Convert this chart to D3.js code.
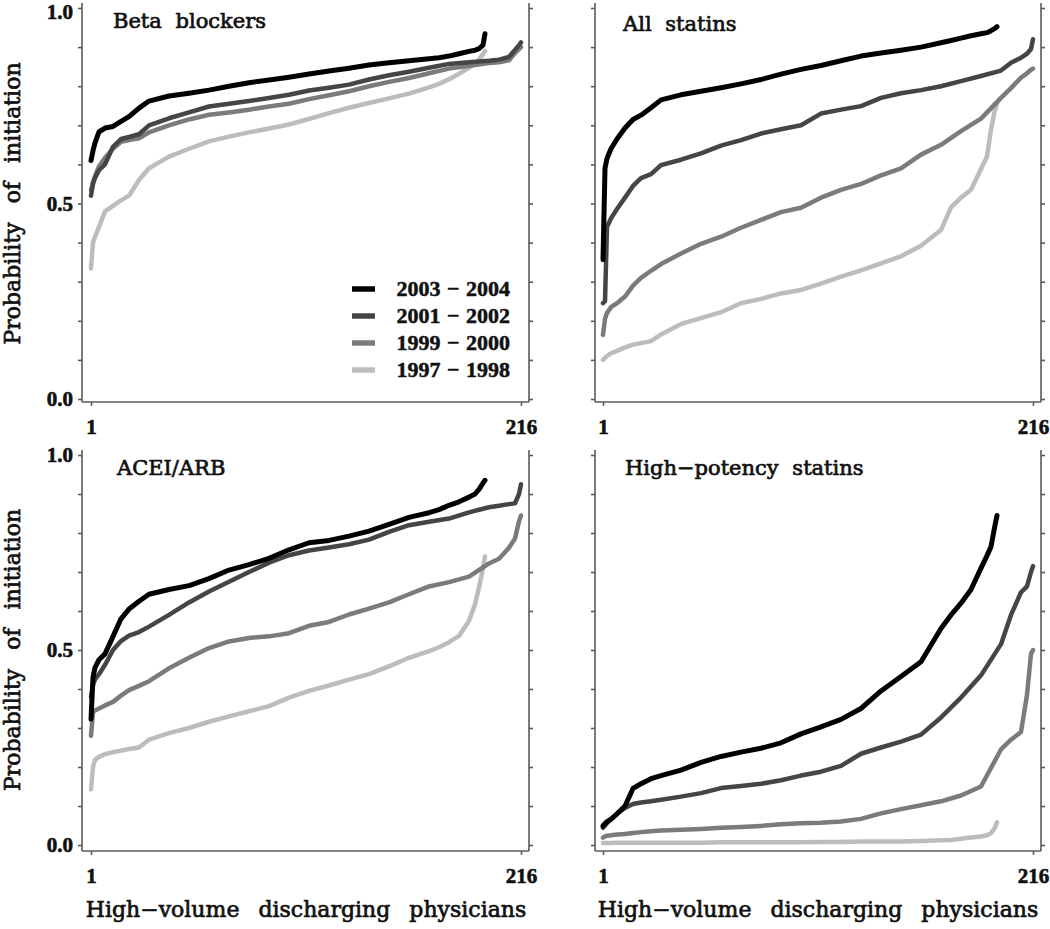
<!DOCTYPE html>
<html><head><meta charset="utf-8">
<script src="https://cdn.jsdelivr.net/npm/d3@7"></script>
<style>body{margin:0;background:#fff} svg{display:block}</style>
</head><body><svg id="c" width="1050" height="929"></svg>
<script>
// ---------- data ----------
const periods = ["2003 \u2212 2004", "2001 \u2212 2002", "1999 \u2212 2000", "1997 \u2212 1998"];
const panelTitles = ["Beta blockers", "All statins", "ACEI/ARB", "High\u2212potency statins"];
const yTickLabels = [0, 0.5, 1.0];
const xTickLabels = [1, 216];
// physician ranks at which values were read (2003-04 and 1997-98 have ~198 physicians, the others 216)
const ranksShort = [1,2,3,5,8,12,16,20,25,30,40,50,60,70,80,90,100,110,120,130,140,150,160,170,175,180,185,190,193,195,197,198];
const ranksLong  = [1,2,3,5,8,12,16,20,25,30,40,50,60,70,80,90,100,110,120,130,140,150,160,170,180,190,200,205,210,213,215,216];

const beta2003 = [.61,.635,.655,.683,.693,.697,.71,.722,.744,.762,.775,.782,.79,.80,.809,.816,.823,.831,.839,.846,.854,.86,.865,.870,.873,.877,.883,.889,.892,.896,.905,.934];
const beta2001 = [.52,.55,.565,.585,.60,.645,.665,.67,.677,.70,.718,.733,.748,.755,.762,.770,.778,.789,.796,.804,.817,.828,.837,.847,.857,.861,.865,.868,.875,.893,.905,.912];
const beta1999 = [.534,.555,.57,.595,.617,.64,.658,.662,.667,.682,.70,.715,.727,.733,.740,.748,.755,.767,.777,.787,.800,.811,.821,.833,.845,.852,.859,.861,.866,.885,.895,.90];
const beta1997 = [.334,.40,.415,.44,.48,.494,.508,.52,.56,.59,.62,.64,.659,.671,.682,.692,.702,.716,.731,.745,.757,.769,.781,.797,.806,.818,.832,.847,.857,.868,.882,.89];

const statin2003 = [.356,.59,.615,.64,.665,.693,.715,.726,.745,.765,.778,.787,.796,.806,.817,.831,.843,.853,.865,.877,.885,.892,.90,.911,.917,.923,.929,.934,.937,.942,.948,.952];
const statin2001 = [.245,.25,.44,.462,.486,.515,.545,.565,.575,.598,.612,.628,.648,.662,.679,.69,.70,.73,.74,.749,.77,.782,.79,.80,.813,.826,.84,.86,.873,.883,.895,.92];
const statin1999 = [.164,.205,.22,.235,.245,.262,.29,.31,.328,.345,.372,.397,.415,.438,.458,.478,.489,.515,.535,.55,.572,.59,.625,.65,.685,.717,.77,.795,.822,.833,.842,.845];
const statin1997 = [.10,.105,.11,.117,.123,.132,.139,.143,.148,.165,.192,.207,.222,.245,.256,.27,.279,.295,.313,.329,.347,.365,.392,.432,.49,.515,.535,.588,.62,.69,.74,.755];

const acei2003 = [.323,.43,.455,.475,.49,.535,.58,.605,.625,.643,.655,.665,.683,.705,.719,.735,.757,.775,.781,.792,.805,.822,.84,.852,.86,.871,.88,.892,.90,.912,.928,.935];
const acei2001 = [.38,.41,.425,.438,.462,.50,.523,.537,.546,.56,.59,.622,.65,.675,.70,.724,.743,.755,.763,.771,.783,.803,.82,.829,.837,.853,.866,.870,.874,.876,.90,.925];
const acei1999 = [.28,.34,.345,.35,.358,.367,.383,.397,.408,.42,.453,.48,.505,.522,.531,.535,.543,.562,.572,.591,.606,.622,.643,.663,.674,.688,.722,.734,.762,.786,.83,.845];
const acei1997 = [.143,.20,.218,.226,.233,.238,.242,.246,.25,.27,.287,.30,.316,.33,.343,.356,.378,.395,.409,.424,.438,.458,.48,.497,.507,.52,.536,.575,.617,.66,.71,.74];

const hp2003 = [.049,.055,.06,.066,.08,.10,.145,.157,.17,.178,.192,.212,.227,.238,.248,.262,.285,.303,.322,.35,.395,.432,.47,.555,.59,.62,.655,.71,.742,.765,.82,.845];
const hp2001 = [.044,.05,.056,.066,.08,.095,.105,.109,.112,.116,.124,.133,.146,.151,.157,.166,.178,.188,.203,.234,.25,.265,.283,.327,.378,.435,.515,.59,.648,.663,.70,.715];
const hp1999 = [.019,.022,.024,.025,.027,.028,.031,.033,.035,.037,.039,.041,.044,.046,.049,.053,.056,.057,.060,.067,.081,.092,.102,.112,.127,.15,.245,.27,.29,.385,.49,.50];
const hp1997 = [.005,.005,.005,.005,.006,.006,.006,.006,.006,.006,.006,.006,.007,.007,.007,.007,.007,.008,.008,.009,.009,.009,.010,.012,.013,.016,.019,.022,.025,.03,.045,.058];

// ---------- styling / layout ----------
const colors = ["#000000", "#454545", "#7b7b7b", "#bcbcbc"];
const widths = [5, 4.5, 4.5, 4.5];
const serif = "'DejaVu Serif', serif";
const numFont = "'Liberation Serif', 'Times New Roman', serif";

const panels = [
  {title: panelTitles[0], series: [beta2003, beta2001, beta1999, beta1997],   x0: 91,  x1: 521,  axL: 82,  axR: 529,  y0: 399, y1: 8,   axB: 402, yLabels: true, legend: true,  tx: 113, ty: 28, topRow: true},
  {title: panelTitles[1], series: [statin2003, statin2001, statin1999, statin1997], x0: 603, x1: 1033, axL: 595, axR: 1041, y0: 399, y1: 8,   axB: 402, yLabels: false, legend: false, tx: 623, ty: 31, topRow: true},
  {title: panelTitles[2], series: [acei2003, acei2001, acei1999, acei1997],   x0: 91,  x1: 521,  axL: 82,  axR: 529,  y0: 845, y1: 455, axB: 851, yLabels: true, legend: false, tx: 117, ty: 475, xTitle: true},
  {title: panelTitles[3], series: [hp2003, hp2001, hp1999, hp1997],           x0: 603, x1: 1033, axL: 595, axR: 1041, y0: 845, y1: 455, axB: 851, yLabels: false, legend: false, tx: 625, ty: 475, xTitle: true}
];

const svg = d3.select("#c");
const axisColor = "#5a5a5a";

function heavy(sel, w) {
  return sel.attr("stroke", "#111").attr("stroke-width", w).attr("paint-order", "stroke").attr("stroke-linejoin", "round");
}

panels.forEach(p => {
  const x = d3.scaleLinear().domain([1, 216]).range([p.x0, p.x1]);
  const y = d3.scaleLinear().domain([0, 1]).range([p.y0, p.y1]);
  const g = svg.append("g");
  const top = p.y1 - 5;

  // frame lines (left, right, bottom)
  g.append("line").attr("x1", p.axL).attr("x2", p.axL).attr("y1", top).attr("y2", p.axB)
    .attr("stroke", axisColor).attr("stroke-width", 1.6);
  g.append("line").attr("x1", p.axR).attr("x2", p.axR).attr("y1", top).attr("y2", p.axB)
    .attr("stroke", axisColor).attr("stroke-width", 1.6);
  g.append("line").attr("x1", p.axL).attr("x2", p.axR).attr("y1", p.axB).attr("y2", p.axB)
    .attr("stroke", axisColor).attr("stroke-width", 1.6);

  const minor = d3.range(0, 11).map(i => i / 10);
  const fmt = d => yTickLabels.some(v => Math.abs(v - d) < 1e-9) && p.yLabels ? d3.format(".1f")(d) : "";

  const left = g.append("g").attr("transform", `translate(${p.axL},0)`)
    .call(d3.axisLeft(y).tickValues(minor).tickSize(4).tickPadding(5).tickFormat(fmt));
  const right = g.append("g").attr("transform", `translate(${p.axR},0)`)
    .call(d3.axisRight(y).tickValues(minor).tickSize(4).tickFormat(""));
  const bottom = g.append("g").attr("transform", `translate(0,${p.axB})`)
    .call(d3.axisBottom(x).tickValues(xTickLabels).tickSize(4).tickPadding(13).tickFormat(d3.format("d")));

  [left, right, bottom].forEach(a => {
    a.select(".domain").remove();
    a.selectAll("line").attr("stroke", axisColor).attr("stroke-width", 1.6);
    a.selectAll("text").attr("font-family", numFont).attr("font-size", 21).attr("font-weight", "bold").attr("fill", "#111");
    heavy(a.selectAll("text"), 0.6);
  });
  // keep the topmost label of the upper row inside the picture
  if (p.topRow) {
    left.selectAll(".tick").filter(d => d === 1).select("text").attr("dy", "0.52em");
  }

  // series (oldest first so 2003-2004 is on top)
  const line = d3.line().x(d => x(d[0])).y(d => y(d[1]));
  for (let i = 3; i >= 0; i--) {
    const vals = p.series[i];
    const ranks = (i === 0 || i === 3) ? ranksShort : ranksLong;
    const pts = vals.map((v, k) => [ranks[k], v]);
    g.append("path").attr("d", line(pts)).attr("fill", "none")
      .attr("stroke", colors[i]).attr("stroke-width", widths[i])
      .attr("stroke-linejoin", "round").attr("stroke-linecap", "round");
  }

  // panel title
  heavy(g.append("text").attr("x", p.tx).attr("y", p.ty).text(p.title)
    .attr("font-family", serif).attr("font-size", 21).attr("word-spacing", 7).attr("fill", "#111"), 0.7);

  // y title
  if (p.yLabels) {
    heavy(g.append("text").attr("transform", `translate(20,${(p.y0 + p.y1) / 2}) rotate(-90)`)
      .attr("text-anchor", "middle").text("Probability of initiation")
      .attr("font-family", serif).attr("font-size", 22).attr("word-spacing", 12).attr("fill", "#111"), 0.7);
  }
  // x title
  if (p.xTitle) {
    heavy(g.append("text").attr("x", (p.x0 + p.x1) / 2).attr("y", 917).attr("text-anchor", "middle")
      .text("High\u2212volume discharging physicians")
      .attr("font-family", serif).attr("font-size", 22).attr("word-spacing", 12).attr("fill", "#111"), 0.7);
  }

  // legend
  if (p.legend) {
    const lg = g.append("g");
    periods.forEach((lab, i) => {
      const ry = 289 + i * 27;
      lg.append("line").attr("x1", 352).attr("x2", 375).attr("y1", ry).attr("y2", ry)
        .attr("stroke", colors[i]).attr("stroke-width", 5.5);
      heavy(lg.append("text").attr("x", 510).attr("y", ry + 7).attr("text-anchor", "end").text(lab)
        .attr("font-family", numFont).attr("font-size", 22).attr("font-weight", "bold")
        .attr("word-spacing", 1).attr("fill", "#111"), 0.5);
    });
  }
});
</script></body></html>
